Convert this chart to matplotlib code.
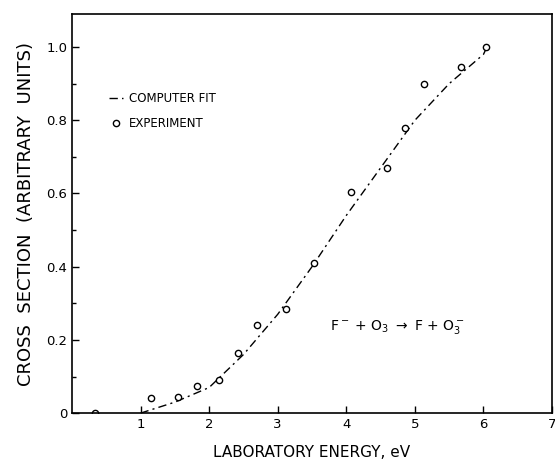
import matplotlib
matplotlib.use("Agg")
import matplotlib.pyplot as plt
from matplotlib.ticker import MultipleLocator

# Experimental points
exp_x = [0.33, 1.15, 1.55, 1.82, 2.15, 2.42, 2.70, 3.12, 3.53, 4.07, 4.60, 4.86, 5.13, 5.67, 6.04]
exp_y = [0.00, 0.04, 0.045, 0.075, 0.09, 0.165, 0.24, 0.285, 0.41, 0.605, 0.67, 0.78, 0.90, 0.945, 1.00]

# Computer fit curve
fit_x = [1.0, 1.5, 2.0, 2.5, 3.0, 3.5, 4.0, 4.5, 5.0, 5.5, 6.0, 6.05]
fit_y = [0.0, 0.03, 0.07, 0.16, 0.27, 0.40, 0.54, 0.67, 0.80, 0.90, 0.98, 1.0]

xticks = [1, 2, 3, 4, 5, 6, 7]
yticks = [0, 0.2, 0.4, 0.6, 0.8, 1.0]
ytick_labels = ["0", "0.2", "0.4", "0.6", "0.8", "1.0"]

plt.rcParams['font.family'] = ['DejaVu Sans']

fig = plt.figure(figsize=(5.55, 4.7), dpi=100)
ax = fig.add_axes([0.1297, 0.121, 0.865, 0.849])

ax.plot(fit_x, fit_y, color='black', lw=1.0, linestyle=(0, (6, 3, 1.5, 3)),
        label='COMPUTER FIT')
ax.plot(exp_x, exp_y, linestyle='none', marker='o', markersize=4.5,
        markerfacecolor='white', markeredgecolor='black', markeredgewidth=1.0,
        label='EXPERIMENT')

ax.set_xlim(0, 7)
ax.set_ylim(0, 1.09)
ax.set_xticks(xticks)
ax.set_xticklabels([str(t) for t in xticks])
ax.set_yticks(yticks)
ax.set_yticklabels(ytick_labels)
ax.yaxis.set_minor_locator(MultipleLocator(0.1))
ax.tick_params(which='both', direction='in', labelsize=9.5)
ax.tick_params(which='major', length=5, width=1)
ax.tick_params(which='minor', length=3, width=1)
for s in ax.spines.values():
    s.set_linewidth(1.2)

ax.set_xlabel('LABORATORY ENERGY, eV', fontsize=11, labelpad=10)
ax.set_ylabel('CROSS  SECTION  (ARBITRARY  UNITS)', fontsize=13, labelpad=8)

ax.legend(loc='upper left', bbox_to_anchor=(0.065, 0.82), frameon=False,
          fontsize=8.5, handlelength=1.2, handletextpad=0.5, labelspacing=1.0,
          borderpad=0)

ax.text(4.74, 0.236, r'F$^-$ + O$_3$ $\rightarrow$ F + O$_3^-$', fontsize=10,
        ha='center', va='center')

fig.savefig('out.png', dpi=100)
